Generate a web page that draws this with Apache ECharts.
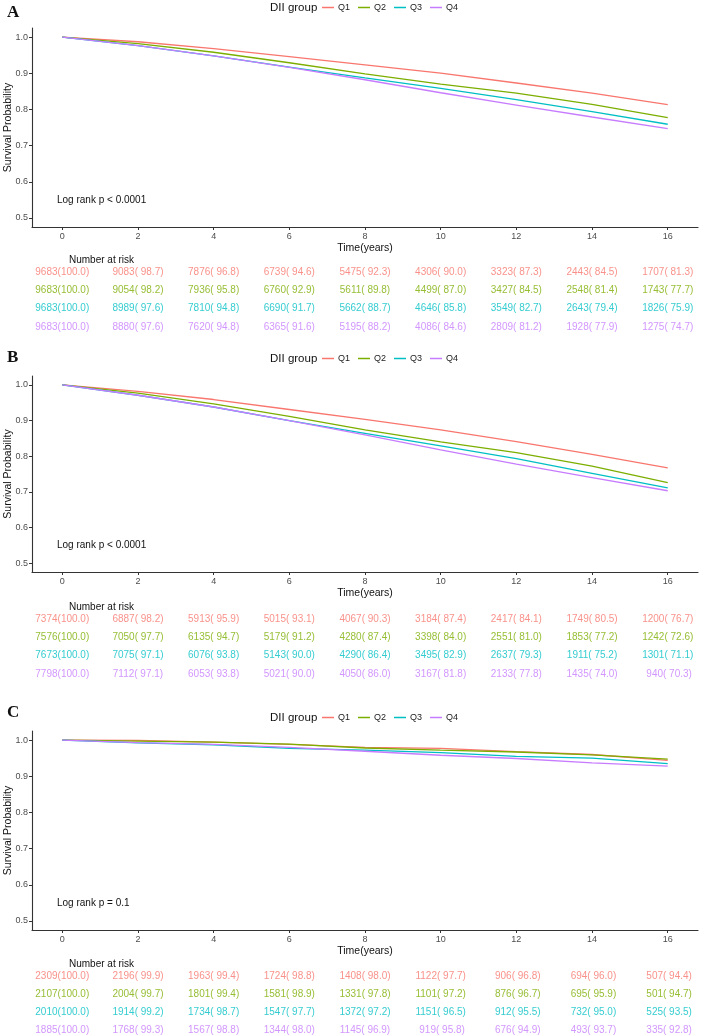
<!DOCTYPE html>
<html>
<head>
<meta charset="utf-8">
<script src="https://cdn.jsdelivr.net/npm/echarts@6/dist/echarts.min.js"></script>
<style>html,body{margin:0;padding:0;background:#fff;}#c{width:702px;height:1036px;}</style>
</head>
<body>
<div id="c"></div>
<script>
// ---- data ----
const years = [0, 2, 4, 6, 8, 10, 12, 14, 16];
const groups = ['Q1', 'Q2', 'Q3', 'Q4'];
const colors = ['#F8766D', '#7CAE00', '#00BFC4', '#C77CFF'];
const yTicks = [0.5, 0.6, 0.7, 0.8, 0.9, 1.0];
const panelLabels = ['A', 'B', 'C'];
const logRankTexts = ['Log rank p < 0.0001', 'Log rank p < 0.0001', 'Log rank p = 0.1'];

// survival (%) at each year, per group (Q1..Q4)
const survA = [
  [100.0, 98.7, 96.8, 94.6, 92.3, 90.0, 87.3, 84.5, 81.3],
  [100.0, 98.2, 95.8, 92.9, 89.8, 87.0, 84.5, 81.4, 77.7],
  [100.0, 97.6, 94.8, 91.7, 88.7, 85.8, 82.7, 79.4, 75.9],
  [100.0, 97.6, 94.8, 91.6, 88.2, 84.6, 81.2, 77.9, 74.7]
];
const riskA = [
  [9683, 9083, 7876, 6739, 5475, 4306, 3323, 2443, 1707],
  [9683, 9054, 7936, 6760, 5611, 4499, 3427, 2548, 1743],
  [9683, 8989, 7810, 6690, 5662, 4646, 3549, 2643, 1826],
  [9683, 8880, 7620, 6365, 5195, 4086, 2809, 1928, 1275]
];
const survB = [
  [100.0, 98.2, 95.9, 93.1, 90.3, 87.4, 84.1, 80.5, 76.7],
  [100.0, 97.7, 94.7, 91.2, 87.4, 84.0, 81.0, 77.2, 72.6],
  [100.0, 97.1, 93.8, 90.0, 86.4, 82.9, 79.3, 75.2, 71.1],
  [100.0, 97.1, 93.8, 90.0, 86.0, 81.8, 77.8, 74.0, 70.3]
];
const riskB = [
  [7374, 6887, 5913, 5015, 4067, 3184, 2417, 1749, 1200],
  [7576, 7050, 6135, 5179, 4280, 3398, 2551, 1853, 1242],
  [7673, 7075, 6076, 5143, 4290, 3495, 2637, 1911, 1301],
  [7798, 7112, 6053, 5021, 4050, 3167, 2133, 1435, 940]
];
const survC = [
  [100.0, 99.9, 99.4, 98.8, 98.0, 97.7, 96.8, 96.0, 94.4],
  [100.0, 99.7, 99.4, 98.9, 97.8, 97.2, 96.7, 95.9, 94.7],
  [100.0, 99.2, 98.7, 97.7, 97.2, 96.5, 95.5, 95.0, 93.5],
  [100.0, 99.3, 98.8, 98.0, 96.9, 95.8, 94.9, 93.7, 92.8]
];
const riskC = [
  [2309, 2196, 1963, 1724, 1408, 1122, 906, 694, 507],
  [2107, 2004, 1801, 1581, 1331, 1101, 876, 695, 501],
  [2010, 1914, 1734, 1547, 1372, 1151, 912, 732, 525],
  [1885, 1768, 1567, 1344, 1145, 919, 676, 493, 335]
];
const survAll = [survA, survB, survC];
const riskAll = [riskA, riskB, riskC];

// ---- layout ----
const plotLayout = [
  {top: 28, height: 199, legendTop: 3, letterTop: 4, riskTop: 272, riskH: 55, narTop: 255, logTop: 195},
  {top: 376, height: 196, legendTop: 354, letterTop: 349, riskTop: 619, riskH: 55, narTop: 602, logTop: 540},
  {top: 731, height: 199, legendTop: 713, letterTop: 704, riskTop: 976, riskH: 54, narTop: 959, logTop: 898}
];
const GL = 32, GW = 666;
const FONT = 'Liberation Sans, Arial, sans-serif';

function pad(s, n) { s = String(s); while (s.length < n) s = ' ' + s; return s; }

const grids = [], xAxes = [], yAxes = [], series = [], titles = [], legends = [];
plotLayout.forEach((L, p) => {
  grids.push({left: GL, width: GW, top: L.top, height: L.height, containLabel: false, outerBoundsMode: 'none'});
  xAxes.push({
    type: 'value', gridIndex: p, min: -0.8, max: 16.8,
    name: 'Time(years)', nameLocation: 'middle', nameGap: 16, nameMoveOverlap: false,
    nameTextStyle: {color: '#111', fontSize: 10.5, fontFamily: FONT},
    axisLine: {show: true, onZero: false, lineStyle: {color: '#333', width: 1.1}},
    axisTick: {show: true, length: 3, customValues: years, lineStyle: {color: '#333'}},
    axisLabel: {customValues: years, margin: 5, color: '#4D4D4D', fontSize: 9, fontFamily: FONT},
    splitLine: {show: false}
  });
  yAxes.push({
    type: 'value', gridIndex: p, min: 0.475, max: 1.025,
    name: 'Survival Probability', nameLocation: 'middle', nameGap: 18, nameRotate: 90, nameMoveOverlap: false,
    nameTextStyle: {color: '#111', fontSize: 10.5, fontFamily: FONT},
    axisLine: {show: true, onZero: false, lineStyle: {color: '#333', width: 1.1}},
    axisTick: {show: true, length: 3, customValues: yTicks, lineStyle: {color: '#333'}},
    axisLabel: {customValues: yTicks, margin: 4, color: '#4D4D4D', fontSize: 9, fontFamily: FONT,
      formatter: v => v.toFixed(1)},
    splitLine: {show: false}
  });
  titles.push({text: panelLabels[p], left: 7, top: L.letterTop, padding: 0,
    textStyle: {fontFamily: 'Liberation Serif, Times New Roman, serif', fontWeight: 'bold', fontSize: 17, color: '#111'}});
  titles.push({text: 'DII group', left: 270, top: L.legendTop - 1, padding: 0,
    textStyle: {fontFamily: FONT, fontWeight: 'normal', fontSize: 11.5, color: '#111'}});
  titles.push({text: logRankTexts[p], left: 57, top: L.logTop, padding: 0,
    textStyle: {fontFamily: FONT, fontWeight: 'normal', fontSize: 10, color: '#111'}});
  titles.push({text: 'Number at risk', left: 69, top: L.narTop, padding: 0,
    textStyle: {fontFamily: FONT, fontWeight: 'normal', fontSize: 10, color: '#111'}});
  legends.push({
    left: 322, top: L.legendTop, padding: 0, itemGap: 8, itemWidth: 12, itemHeight: 1.5,
    icon: 'rect', selectedMode: false,
    textStyle: {fontFamily: FONT, fontSize: 9, color: '#222', padding: [0, 0, 0, -1]},
    data: groups.map((g, i) => ({name: g, itemStyle: {color: colors[i]}})),
  });
  groups.forEach((g, gi) => {
    series.push({
      name: g, type: 'line', xAxisIndex: p, yAxisIndex: p,
      data: years.map((t, i) => [t, survAll[p][gi][i] / 100]),
      symbol: 'none', lineStyle: {color: colors[gi], width: 1.3}, itemStyle: {color: colors[gi]},
      silent: true, animation: false
    });
  });
});
// risk tables
plotLayout.forEach((L, p) => {
  const gi0 = grids.length;
  grids.push({left: GL, width: GW, top: L.riskTop, height: L.riskH, containLabel: false, outerBoundsMode: 'none'});
  xAxes.push({type: 'value', gridIndex: gi0, min: -0.8, max: 16.8, show: false});
  yAxes.push({type: 'value', gridIndex: gi0, min: 0, max: 3, inverse: true, show: false});
  groups.forEach((g, gi) => {
    series.push({
      name: g + ' risk', type: 'scatter', xAxisIndex: gi0, yAxisIndex: gi0,
      data: years.map((t, i) => [t, gi, riskAll[p][gi][i], survAll[p][gi][i]]),
      symbolSize: 2, itemStyle: {color: 'rgba(255,255,255,0)'}, silent: true, animation: false,
      label: {show: true, position: 'inside', color: colors[gi], fontSize: 10, fontFamily: FONT,
        formatter: d => pad(d.value[2], 4) + '(' + pad(d.value[3].toFixed(1), 5) + ')'}
    });
  });
});

const chart = echarts.init(document.getElementById('c'), null, {renderer: 'canvas'});
chart.setOption({
  backgroundColor: '#fff', animation: false,
  title: titles, legend: legends, grid: grids, xAxis: xAxes, yAxis: yAxes, series: series
});
</script>
</body>
</html>
